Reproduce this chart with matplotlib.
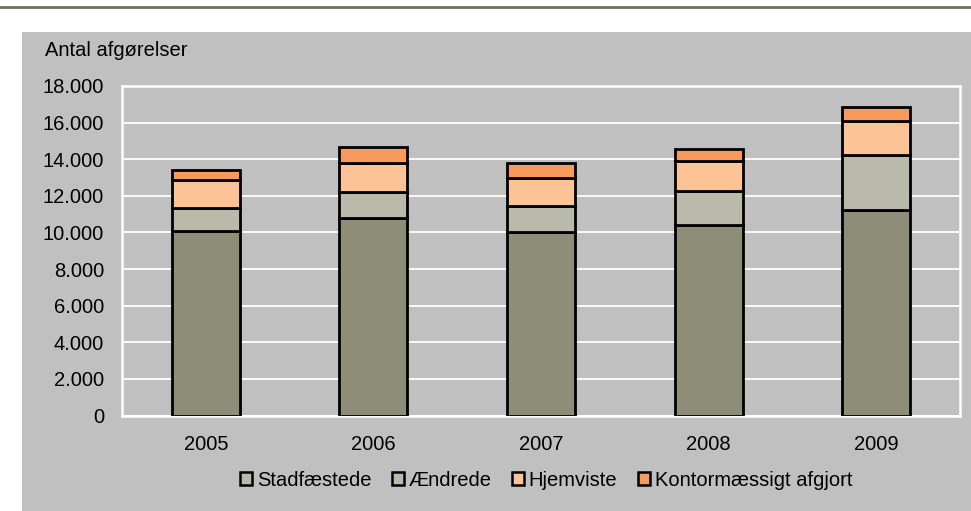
import matplotlib
matplotlib.use("Agg")
from matplotlib import pyplot as plt
from matplotlib.patches import Rectangle, Patch
from matplotlib.lines import Line2D
from matplotlib.ticker import FuncFormatter

years = ['2005', '2006', '2007', '2008', '2009']
stadfaestede = [10100, 10790, 10020, 10420, 11240]
aendrede = [1210, 1410, 1400, 1850, 2980]
hjemviste = [1530, 1620, 1530, 1650, 1890]
kontor = [580, 840, 870, 640, 730]

series = [
    ('Stadfæstede', stadfaestede, '#8e8e78'),
    ('Ændrede', aendrede, '#b9baa9'),
    ('Hjemviste', hjemviste, '#fcc396'),
    ('Kontormæssigt afgjort', kontor, '#f89a5c'),
]

plt.rcParams['font.family'] = ['Liberation Sans', 'DejaVu Sans']

fig = plt.figure(figsize=(9.71, 5.11), dpi=100)
W, H = 971, 511

# grey panel and the rule at the top
fig.add_artist(Rectangle((22 / W, 0), 1 - 22 / W, (H - 32) / H,
                         transform=fig.transFigure, facecolor='#c0c0c0',
                         edgecolor='none', zorder=-10))
fig.add_artist(Line2D([0, 1], [1 - 7 / H, 1 - 7 / H], transform=fig.transFigure,
                      color='#6e7356', lw=2))

ax = fig.add_axes([122 / W, (H - 415.5) / H, (960 - 122) / W, (415.5 - 86) / H])
ax.set_facecolor('#c0c0c0')

x = range(len(years))
bottom = [0] * len(years)
for name, vals, col in series:
    ax.bar(x, vals, 0.405, bottom=bottom, color=col, edgecolor='black',
           linewidth=2, zorder=3)
    bottom = [b + v for b, v in zip(bottom, vals)]

ax.set_xlim(-0.5, len(years) - 0.5)
ax.set_ylim(0, 18000)
ax.set_yticks(range(0, 18001, 2000))
ax.yaxis.set_major_formatter(FuncFormatter(lambda v, p: f'{int(v):,}'.replace(',', '.')))
ax.set_xticks(list(x))
ax.set_xticklabels(years)
ax.grid(axis='y', color='white', lw=1.3, zorder=1)
ax.tick_params(length=0, labelsize=14.5, colors='black')
ax.tick_params(axis='y', pad=13)
ax.tick_params(axis='x', pad=14)
for s in ax.spines.values():
    s.set_color('white')
    s.set_linewidth(1.8)

fig.text(45 / W, 1 - 50 / H, 'Antal afgørelser', fontsize=14.5, va='center', ha='left')

handles = [Patch(facecolor=c if n != 'Stadfæstede' else '#b9baa9',
                 edgecolor='black', linewidth=1.8) for n, v, c in series]
fig.legend(handles, [n for n, v, c in series], loc='center', ncol=4,
           bbox_to_anchor=(546 / W, 1 - 480 / H), frameon=False,
           prop={'size': 14.5},
           handlelength=0.6, handleheight=0.6, handletextpad=0.25, columnspacing=1.0,
           borderaxespad=0)

fig.savefig('out.png', dpi=100)
